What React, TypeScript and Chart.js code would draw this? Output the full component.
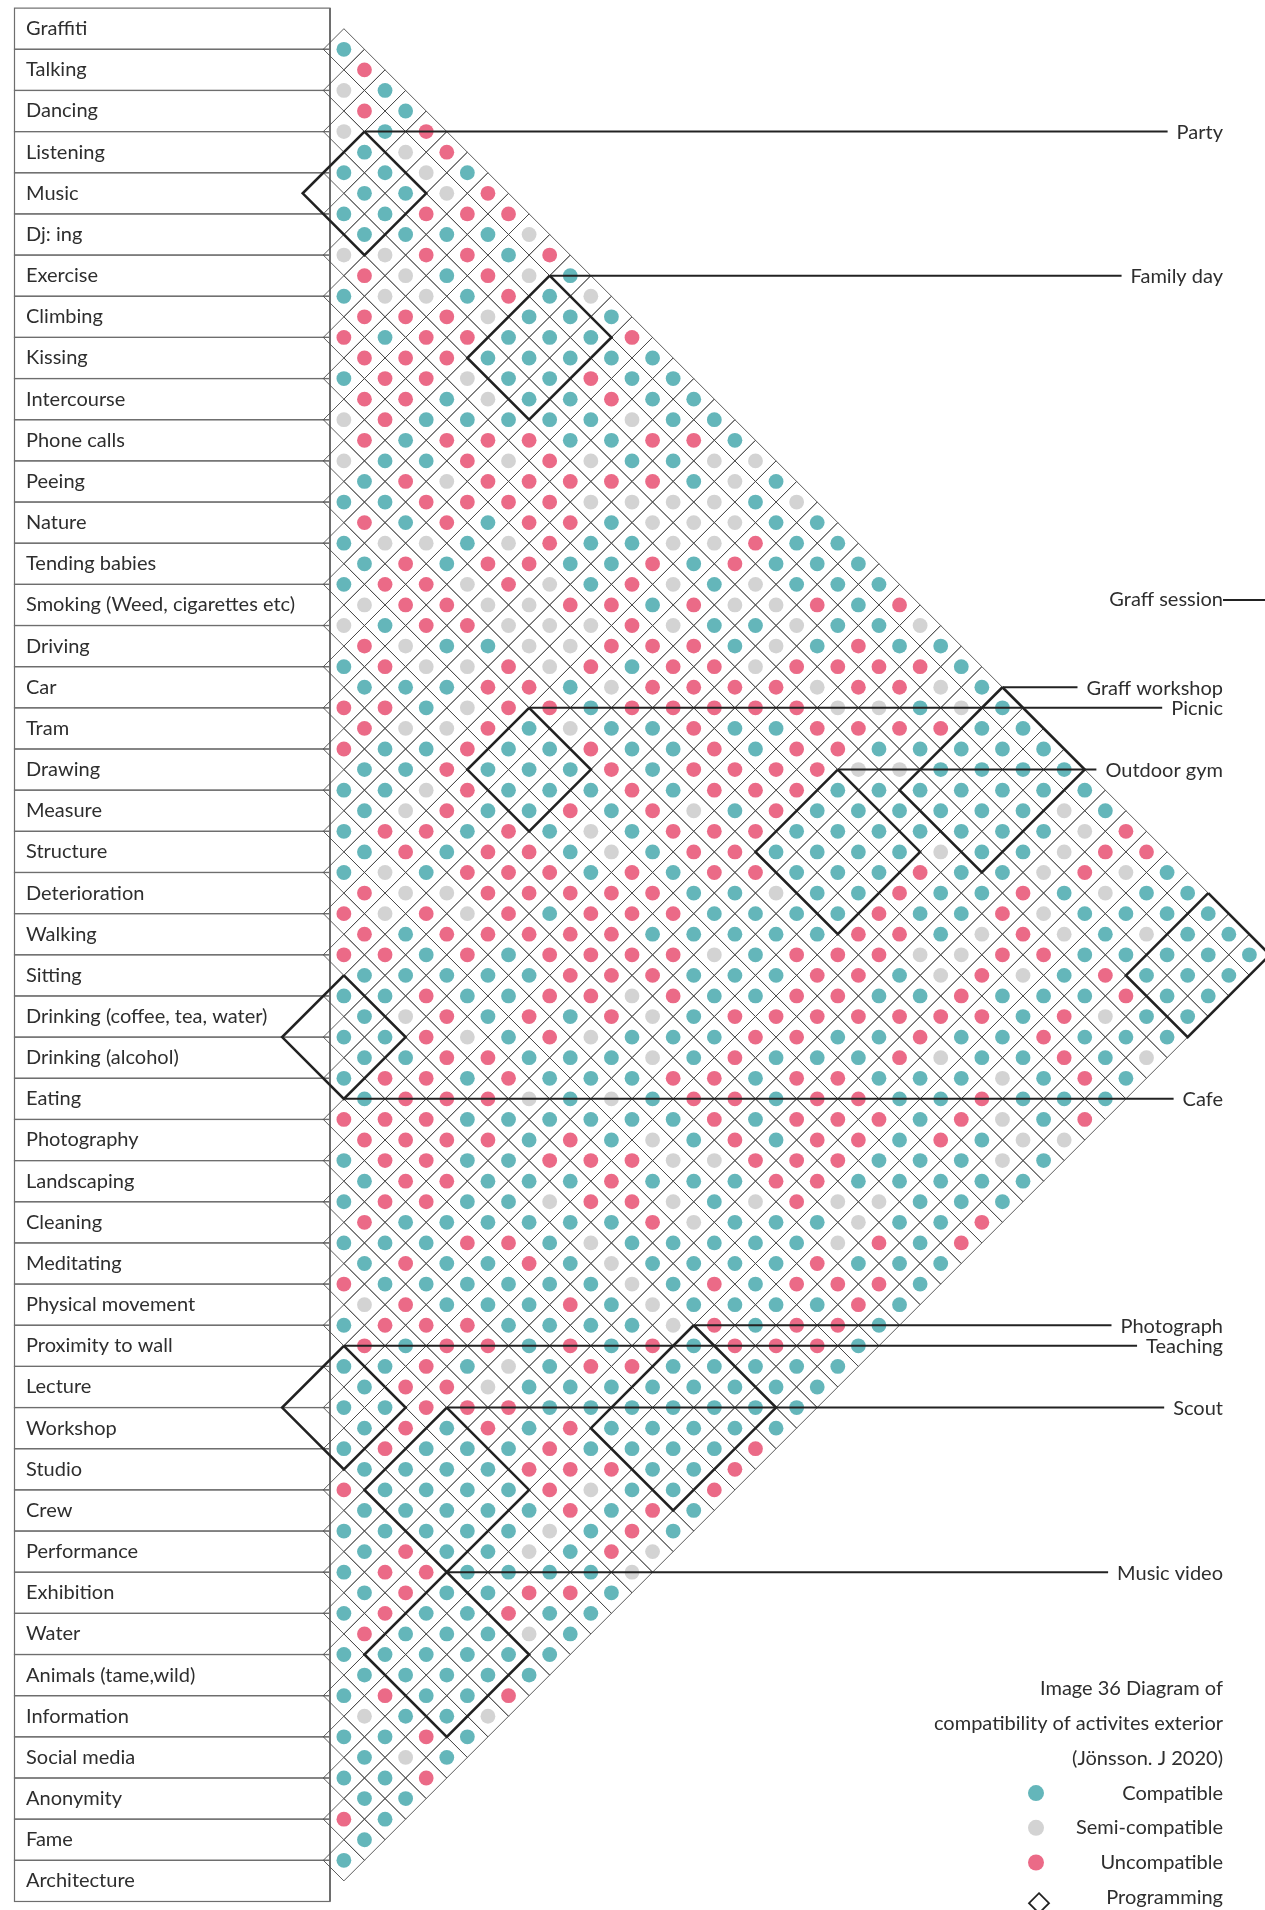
import React, { useEffect, useRef } from 'react';
import { Chart, registerables } from 'chart.js';

Chart.register(...registerables);

// ---------------- DATA ----------------
const activities: string[] = [
  'Graffiti', 'Talking', 'Dancing', 'Listening', 'Music', 'Dj: ing', 'Exercise', 'Climbing',
  'Kissing', 'Intercourse', 'Phone calls', 'Peeing', 'Nature', 'Tending babies',
  'Smoking (Weed, cigarettes etc)', 'Driving', 'Car', 'Tram', 'Drawing', 'Measure', 'Structure',
  'Deterioration', 'Walking', 'Sitting', 'Drinking (coffee, tea, water)', 'Drinking (alcohol)',
  'Eating', 'Photography', 'Landscaping', 'Cleaning', 'Meditating', 'Physical movement',
  'Proximity to wall', 'Lecture', 'Workshop', 'Studio', 'Crew', 'Performance', 'Exhibition',
  'Water', 'Animals (tame,wild)', 'Information', 'Social media', 'Anonymity', 'Fame', 'Architecture',
];

// Lattice rows read left to right. Row n (1-based) holds the pairs (i, j) with i + j = n,
// ordered by growing distance j - i.  c = compatible, s = semi-compatible, u = uncompatible
const upperRows: string[] = [
  'c', 'u', 'sc', 'uc', 'scu', 'csu', 'ccsc', 'ccsu', 'ccuuu', 'ccccs',
  'ssuucu', 'uscusc', 'csscucs', 'uuusccc', 'ucuucccu', 'uuuccccc', 'cuusccucc', 'uucsccucc',
  'succcccscc', 'ucuuuccuuc', 'sccususccss', 'cusuuuuucsc', 'ccuuuusssscs', 'ucucuucssscc',
  'csscsuccssucc', 'cucuuccucuccc', 'cuususcuscsccc', 'suussuucussucu', 'scuusssusccsccs',
  'usccssuuucscucc', 'cussusucuusuuuuc', 'cccuucsuuuusuusc', 'uucsuucuuuuusscsc',
  'ussucsccuccuuuucc', 'uccuccuccucuuccccc', 'ccucccucuuuusscccc', 'ccsucccucuuuccccccc',
  'csuccucuscuccccccsc', 'cuucucscuuucccccccsu', 'cucuucscuuccccsccsuu', 'cscuuucucuucccuccsusc',
  'ussuuuuuccsccuccucscc', 'ususucuuuccccuccuscccc', 'ucuuuuucccccuucsuscscc',
  'uucucuuuuscuuussuuccccc',
];
const lowerRows: string[] = [
  'cccccuuucccuucsuscuccc', 'ccuccuusuccuuccucccucc', 'csucucuscuuuuuuucuscc',
  'ccuscuscccuuccuccuccc', 'ccuucccscucccusccucs', 'cuucucccuucuucccscuc', 'cuuuscscuucuuccuccc',
  'uuuccccccucuuucuscu', 'uuuucucscucuucucss', 'cuuccuuussuuucccsc', 'cuucccucccuuccccc',
  'cuuccsuuscsussccc', 'uccccccuscccsccu', 'cccuucscccccsucu', 'cuccucsccccuccc',
  'uccccccscucuuuc', 'succcucsccccuc', 'cuuuccccsucuuc', 'ucuucucucuuuc', 'ccucscuuccccc',
  'cuuscccccccc', 'ccuuuccccccc', 'cucucuccccc', 'cucccuccccu', 'ccccuuuccu', 'uccccusccu',
  'cccccucuc', 'cccccscuc', 'cuccscus', 'cuuccccs', 'cuccuuc', 'cuccucc', 'ucccsc', 'cccccc',
  'ccccc', 'cuccu', 'sccs', 'ccuc', 'csc', 'ccu', 'cc', 'uc', 'c', 'c',
];

// Programming groups: activity index ranges [first, last] for the two sides of the block
const programmes = [
  { name: 'Party', rows: [2, 4], cols: [4, 6], anchor: 'top' },
  { name: 'Family day', rows: [1, 4], cols: [12, 14], anchor: 'top' },
  { name: 'Graff session', rows: [0, 3], cols: [43, 45], anchor: 'none' },
  { name: 'Graff workshop', rows: [0, 4], cols: [33, 36], anchor: 'top' },
  { name: 'Picnic', rows: [12, 14], cols: [22, 24], anchor: 'top' },
  { name: 'Outdoor gym', rows: [6, 9], cols: [31, 34], anchor: 'top' },
  { name: 'Cafe', rows: [23, 25], cols: [24, 26], anchor: 'bottom' },
  { name: 'Photograph', rows: [23, 27], cols: [41, 44], anchor: 'top' },
  { name: 'Teaching', rows: [32, 34], cols: [33, 35], anchor: 'top' },
  { name: 'Scout', rows: [31, 34], cols: [37, 40], anchor: 'top' },
  { name: 'Music video', rows: [35, 38], cols: [41, 44], anchor: 'top' },
];

const captionLines: string[] = [
  'Image 36 Diagram of',
  'compatibility of activites exterior',
  '(Jönsson. J 2020)',
];
const legendLabels: string[] = ['Compatible', 'Semi-compatible', 'Uncompatible', 'Programming'];

// ---------------- STYLE / LAYOUT ----------------
const W = 1265;
const H = 1910;
const CELL = 20.58; // px per lattice unit
const ORIGIN_X = 323.3; // px of distance 0
const ORIGIN_Y = 28.7; // px of row sum 0
const X_MIN = -ORIGIN_X / CELL;
const X_MAX = X_MIN + W / CELL;
const Y_MIN = -ORIGIN_Y / CELL;
const Y_MAX = Y_MIN + H / CELL;

const COLORS: Record<string, string> = { c: '#64b6ba', s: '#d3d3d3', u: '#eb6a87' };
const FONT = '20px Lato, "Open Sans", sans-serif';
const TEXT = '#2e2e2e';
const LINE = '#222222';
const BOX_LEFT = 14.5;
const BOX_RIGHT = 330;
const LABEL_TEXT_X = 26;
const RIGHT_TEXT_X = 1223;
const GRAFF_SESSION_Y = 600;

function outline(p: { rows: number[]; cols: number[] }) {
  const [i0, i1] = p.rows;
  const [j0, j1] = p.cols;
  return [
    { x: j0 - i0, y: i0 + j0 - 1 },
    { x: j1 - i0 + 1, y: i0 + j1 },
    { x: j1 - i1, y: i1 + j1 + 1 },
    { x: j0 - i1 - 1, y: i1 + j0 },
    { x: j0 - i0, y: i0 + j0 - 1 },
  ];
}

function buildDatasets() {
  const grid: { x: number; y: number }[] = [];
  const kinds: Record<string, { x: number; y: number }[]> = { c: [], s: [], u: [] };
  [...upperRows, ...lowerRows].forEach((row, idx) => {
    const s = idx + 1;
    const dMin = s % 2 === 1 ? 1 : 2;
    for (let k = 0; k < row.length; k++) {
      const pt = { x: dMin + 2 * k, y: s };
      grid.push(pt);
      kinds[row[k]].push(pt);
    }
  });
  const datasets: any[] = [];
  programmes.forEach((p) => {
    datasets.push({
      label: p.name,
      data: outline(p),
      showLine: true,
      borderColor: LINE,
      borderWidth: 2.6,
      borderJoinStyle: 'miter',
      pointRadius: 0,
      fill: false,
      order: 0,
    });
  });
  (['c', 's', 'u'] as const).forEach((k) => {
    datasets.push({
      label: k,
      data: kinds[k],
      pointStyle: 'circle',
      pointRadius: 7.4,
      pointBackgroundColor: COLORS[k],
      pointBorderWidth: 0,
      order: 1,
    });
  });
  datasets.push({
    label: 'grid',
    data: grid,
    pointStyle: 'rectRot',
    pointRadius: CELL,
    pointBackgroundColor: 'rgba(0,0,0,0)',
    pointBorderColor: '#4a4a4a',
    pointBorderWidth: 0.9,
    order: 2,
  });
  return datasets;
}

const annotate = {
  id: 'annotate',
  beforeDatasetsDraw(chart: any) {
    const { ctx, scales } = chart;
    const y = scales.y;
    ctx.save();
    ctx.strokeStyle = '#6e6e6e';
    ctx.lineWidth = 1.2;
    activities.forEach((a, k) => {
      const top = y.getPixelForValue(2 * k - 1);
      const bot = y.getPixelForValue(2 * k + 1);
      ctx.strokeRect(BOX_LEFT, top, BOX_RIGHT - BOX_LEFT, bot - top);
    });
    ctx.lineWidth = 2;
    ctx.beginPath();
    ctx.moveTo(BOX_RIGHT, y.getPixelForValue(-1));
    ctx.lineTo(BOX_RIGHT, y.getPixelForValue(2 * activities.length - 1));
    ctx.stroke();
    ctx.fillStyle = TEXT;
    ctx.font = FONT;
    ctx.textBaseline = 'middle';
    ctx.textAlign = 'left';
    activities.forEach((a, k) => {
      ctx.fillText(a, LABEL_TEXT_X, y.getPixelForValue(2 * k));
    });
    ctx.restore();
  },
  afterDatasetsDraw(chart: any) {
    const { ctx, scales } = chart;
    const x = scales.x;
    const y = scales.y;
    ctx.save();
    ctx.font = FONT;
    ctx.fillStyle = TEXT;
    ctx.strokeStyle = LINE;
    ctx.lineWidth = 2;
    ctx.textBaseline = 'middle';
    ctx.textAlign = 'right';
    programmes.forEach((p) => {
      const w = ctx.measureText(p.name).width;
      if (p.anchor === 'none') {
        ctx.fillText(p.name, RIGHT_TEXT_X, GRAFF_SESSION_Y);
        ctx.beginPath();
        ctx.moveTo(RIGHT_TEXT_X, GRAFF_SESSION_Y);
        ctx.lineTo(W, GRAFF_SESSION_Y);
        ctx.stroke();
        return;
      }
      const pts = outline(p);
      const v = p.anchor === 'top' ? pts[0] : pts[2];
      const px = x.getPixelForValue(v.x);
      const py = y.getPixelForValue(v.y);
      ctx.beginPath();
      ctx.moveTo(px, py);
      ctx.lineTo(RIGHT_TEXT_X - w - 9, py);
      ctx.stroke();
      ctx.fillText(p.name, RIGHT_TEXT_X, py + 1);
    });
    // caption + legend
    const rowGap = 34.7;
    let ly = 1689;
    captionLines.forEach((t) => {
      ctx.fillText(t, RIGHT_TEXT_X, ly);
      ly += rowGap;
    });
    const markers = ['c', 's', 'u'];
    legendLabels.forEach((t, k) => {
      ctx.fillStyle = TEXT;
      ctx.fillText(t, RIGHT_TEXT_X, ly);
      if (k < 3) {
        ctx.fillStyle = COLORS[markers[k]];
        ctx.beginPath();
        ctx.arc(1036, ly, 8, 0, Math.PI * 2);
        ctx.fill();
      } else {
        const cy = ly + 6;
        ctx.beginPath();
        ctx.moveTo(1039, cy - 10);
        ctx.lineTo(1049, cy);
        ctx.lineTo(1039, cy + 10);
        ctx.lineTo(1029, cy);
        ctx.closePath();
        ctx.lineWidth = 1.8;
        ctx.stroke();
      }
      ly += rowGap;
    });
    ctx.restore();
  },
};

export default function App() {
  const ref = useRef<HTMLCanvasElement | null>(null);
  useEffect(() => {
    if (!ref.current) return;
    const chart = new Chart(ref.current, {
      type: 'scatter',
      data: { datasets: buildDatasets() },
      options: {
        animation: false,
        responsive: false,
        devicePixelRatio: 1,
        events: [],
        layout: { padding: 0, autoPadding: false },
        plugins: { legend: { display: false }, tooltip: { enabled: false }, title: { display: false } },
        scales: {
          x: { type: 'linear', min: X_MIN, max: X_MAX, display: false },
          y: { type: 'linear', min: Y_MIN, max: Y_MAX, reverse: true, display: false },
        },
      },
      plugins: [annotate],
    } as any);
    return () => chart.destroy();
  }, []);
  return (
    <div style={{ position: 'absolute', left: 0, top: 0, width: W, height: H, background: '#fff' }}>
      <canvas ref={ref} width={W} height={H} style={{ display: 'block' }} />
    </div>
  );
}
